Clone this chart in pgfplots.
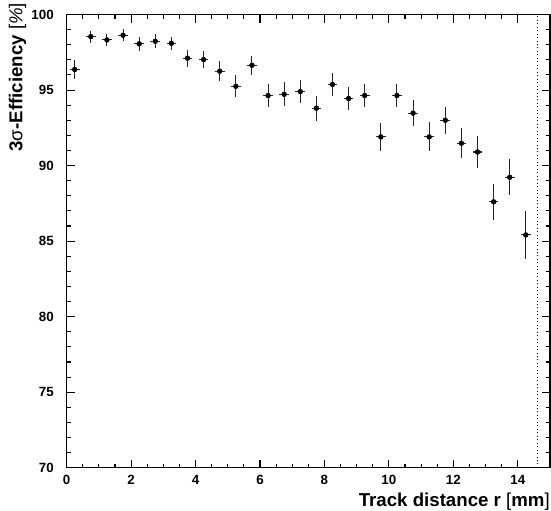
\documentclass[border=0pt]{standalone}
\usepackage{fontspec}
\setmainfont{Liberation Sans}
\usepackage{pgfplots}
\usepackage{pgfplotstable}
\pgfplotsset{compat=1.18}
\pgfplotstableread{
x y ey
0.25 96.36 0.66
0.75 98.54 0.40
1.25 98.32 0.42
1.75 98.63 0.40
2.25 98.06 0.47
2.75 98.23 0.46
3.25 98.10 0.44
3.75 97.11 0.57
4.25 97.02 0.58
4.75 96.25 0.67
5.25 95.25 0.72
5.75 96.64 0.64
6.25 94.64 0.78
6.75 94.72 0.80
7.25 94.90 0.75
7.75 93.80 0.84
8.25 95.37 0.76
8.75 94.44 0.78
9.25 94.64 0.78
9.75 91.90 0.94
10.25 94.64 0.79
10.75 93.47 0.86
11.25 91.90 0.96
11.75 93.00 0.89
12.25 91.48 1.00
12.75 90.90 1.04
13.25 87.60 1.21
13.75 89.23 1.18
14.25 85.41 1.57
}\effdata
\begin{document}
\begin{tikzpicture}
\begin{axis}[
 scale only axis, width=362.5pt, height=339.9pt,
 xmin=0, xmax=15, ymin=70, ymax=100,
 xtick={0,2,...,14}, minor x tick num=3,
 ytick={70,75,...,100}, minor y tick num=4,
 tick align=inside, xtick pos=both, ytick pos=both,
 major tick length=6pt, minor tick length=3pt,
 axis line style={line width=0.9pt, black},
 tick style={line width=0.8pt, black},
 /pgf/number format/assume math mode=true,
 ticklabel style={font=\bfseries\fontsize{10}{12}\selectfont},
 xticklabel style={anchor=north, inner sep=0pt, yshift=-5.5pt},
 yticklabel style={anchor=east, inner sep=0pt, xshift=-9.5pt},
 xlabel={\textbf{Track distance r} {\mdseries[}\textbf{mm}{\mdseries]}},
 ylabel={\textbf{3}{\mdseries σ}\textbf{-Efficiency} {\mdseries[\textit{\%}]}},
 xlabel style={at={(axis description cs:1,-0.056)}, anchor=north east, inner sep=0pt, font=\fontsize{14}{16}\selectfont},
 ylabel style={at={(axis description cs:-0.083,1.026)}, anchor=south east, inner sep=0pt, font=\fontsize{14}{16}\selectfont},
 clip=false
]
\addplot[dotted, black, line width=0.6pt, forget plot] coordinates {(14.6,70) (14.6,100)};
\addplot[only marks, mark=*, mark size=1.8pt, black,
  error bars/.cd, x dir=both, x fixed=0.15, y dir=both, y explicit,
  error mark=none, error bar style={line width=0.8pt, black!85}]
  table[x=x, y=y, y error=ey] {\effdata};
\coordinate (SW) at (rel axis cs:0,0);
\coordinate (NE) at (rel axis cs:1,1);
\end{axis}
\pgfresetboundingbox
\useasboundingbox ([shift={(-50pt,-31.7pt)}]SW) rectangle ([shift={(0.75pt,10.9pt)}]NE);
\end{tikzpicture}
\end{document}
